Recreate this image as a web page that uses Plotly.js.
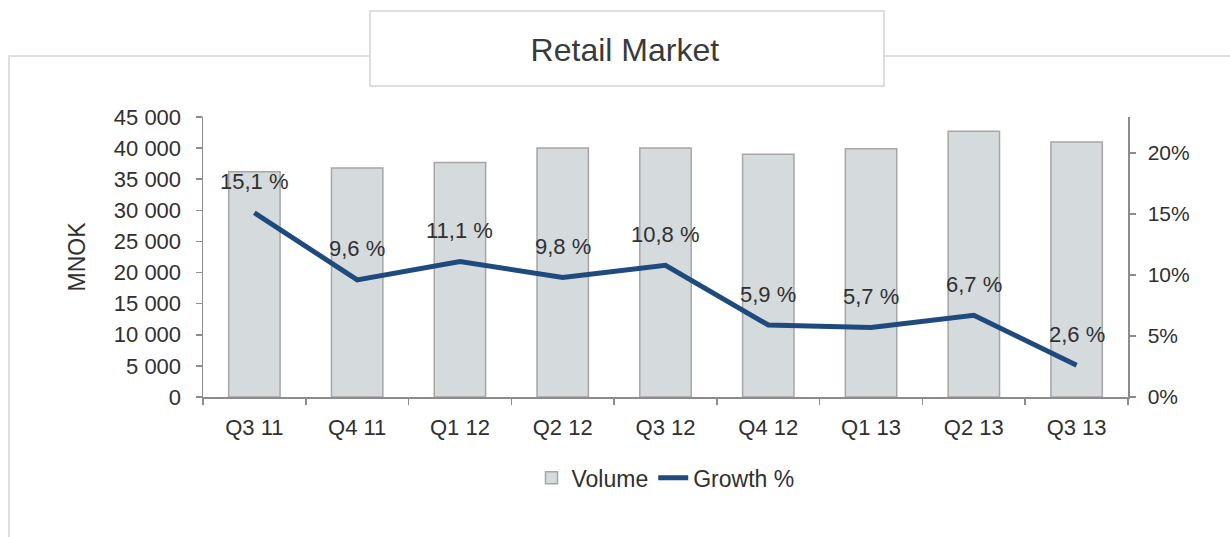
<!DOCTYPE html>
<html>
<head>
<meta charset="utf-8">
<script src="https://cdn.plot.ly/plotly-3.0.1.min.js"></script>
<style>
  html, body { margin: 0; padding: 0; background: #fff; }
  #chart { width: 1230px; height: 537px; }
</style>
</head>
<body>
<div id="chart"></div>
<script>
const quarters = ["Q3 11", "Q4 11", "Q1 12", "Q2 12", "Q3 12", "Q4 12", "Q1 13", "Q2 13", "Q3 13"];
const volume = [36200, 36800, 37700, 40000, 40000, 39000, 39900, 42700, 41000];
const growth = [15.1, 9.6, 11.1, 9.8, 10.8, 5.9, 5.7, 6.7, 2.6];

const textColor = "#303030";
const axisColor = "#8c8c8c";
const fontFamily = "Liberation Sans, Arial, sans-serif";

const plotData = [
  {
    type: "bar",
    name: "Volume",
    x: quarters,
    y: volume,
    width: 0.5,
    marker: {
      color: "#d5dadd",
      line: { color: "#a6a6a6", width: 1.5 },
    },
    hoverinfo: "skip",
  },
  {
    type: "scatter",
    mode: "lines",
    name: "Growth %",
    x: quarters,
    y: growth.map((g) => g / 100),
    yaxis: "y2",
    line: { color: "#1f4a7d", width: 5 },
    hoverinfo: "skip",
  },
];

// growth labels sit above each point of the line
const labels = growth.map((g, i) => ({
  x: quarters[i],
  y: g / 100,
  xref: "x",
  yref: "y2",
  text: g.toFixed(1).replace(".", ",") + " %",
  showarrow: false,
  yanchor: "middle",
  yshift: 31,
  font: { size: 22, color: textColor },
}));

const baseAxis = {
  showline: true,
  linecolor: axisColor,
  linewidth: 1.5,
  ticks: "outside",
  ticklen: 6,
  tickcolor: axisColor,
  tickwidth: 1.5,
  showgrid: false,
  zeroline: false,
  tickfont: { size: 22, color: textColor },
};

const layout = {
  width: 1230,
  height: 537,
  margin: { l: 203, r: 102, t: 117, b: 140, pad: 0 },
  paper_bgcolor: "#ffffff",
  plot_bgcolor: "#ffffff",
  font: { family: fontFamily, color: textColor },
  separators: ", ",
  title: {
    text: "Retail Market",
    x: 0.508,
    xanchor: "center",
    y: 0.907,
    yanchor: "middle",
    font: { size: 32, color: "#3a3a3a" },
  },
  xaxis: {
    ...baseAxis,
    tickson: "boundaries",
    type: "category",
    ticklabelstandoff: 10,
  },
  yaxis: {
    ...baseAxis,
    range: [0, 45000],
    dtick: 5000,
    tickformat: ",",
    ticklabelstandoff: 10,
    title: { text: "MNOK", font: { size: 23, color: textColor }, standoff: 22 },
  },
  yaxis2: {
    ...baseAxis,
    overlaying: "y",
    side: "right",
    range: [0, 0.2295],
    dtick: 0.05,
    tickformat: ".0%",
    ticklabelstandoff: 8,
    tickfont: { size: 21, color: textColor },
  },
  bargap: 0.5,
  showlegend: true,
  legend: {
    orientation: "h",
    x: 0.5,
    xanchor: "center",
    y: -0.289,
    yanchor: "middle",
    font: { size: 23, color: textColor },
    traceorder: "normal",
  },
  annotations: labels,
  shapes: [
    {
      // outer frame of the chart area
      type: "rect",
      xref: "paper",
      yref: "paper",
      x0: -0.2097,
      x1: 1.12,
      y0: -0.56,
      y1: 1.2179,
      line: { color: "#d4d4d4", width: 1.5 },
      fillcolor: "rgba(0,0,0,0)",
      layer: "below",
    },
    {
      // box behind the title
      type: "rect",
      xref: "paper",
      yref: "paper",
      x0: 0.1805,
      x1: 0.7362,
      y0: 1.1107,
      y1: 1.3786,
      line: { color: "#d4d4d4", width: 1.5 },
      fillcolor: "#ffffff",
      layer: "below",
    },
  ],
};

Plotly.newPlot(document.getElementById("chart"), plotData, layout, {
  displayModeBar: false,
  staticPlot: true,
});
</script>
</body>
</html>
